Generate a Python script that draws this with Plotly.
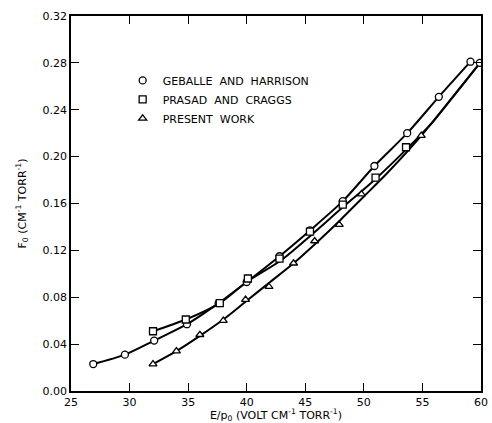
import plotly.graph_objects as go

# Geballe and Harrison (circles)
gh_x = [26.9, 29.6, 32.1, 34.9, 37.6, 40.0, 42.8, 45.4, 48.2, 50.9, 53.7, 56.4, 59.1]
gh_y = [0.023, 0.031, 0.043, 0.057, 0.075, 0.093, 0.115, 0.137, 0.162, 0.192, 0.220, 0.251, 0.281]

# Prasad and Craggs (squares)
pc_x = [32.0, 34.8, 37.7, 40.1, 42.8, 45.4, 48.2, 51.0, 53.6]
pc_y = [0.051, 0.061, 0.075, 0.096, 0.113, 0.136, 0.159, 0.182, 0.208]

# Present work (triangles)
pw_x = [32.0, 34.0, 36.0, 38.0, 39.9, 41.9, 44.0, 45.8, 47.9, 49.8, 54.9]
pw_y = [0.023, 0.034, 0.048, 0.060, 0.078, 0.089, 0.109, 0.128, 0.142, 0.168, 0.218]

# Smoothed curves drawn through the data
pc_curve_x = [32.0, 34.8, 37.7, 40.0, 43.0, 45.5, 48.0, 51.0, 53.6, 56.0, 58.0, 60.0]
pc_curve_y = [0.051, 0.061, 0.075, 0.093, 0.112, 0.133, 0.155, 0.181, 0.206, 0.231, 0.256, 0.281]
pw_curve_x = [32.0, 34.0, 36.0, 38.0, 40.0, 42.0, 44.0, 46.0, 48.0, 50.0, 52.0, 55.0, 58.0, 60.0]
pw_curve_y = [0.023, 0.034, 0.047, 0.061, 0.077, 0.093, 0.109, 0.127, 0.146, 0.166, 0.186, 0.219, 0.256, 0.281]
end_x = [59.9]
end_y = [0.280]

x_ticks = [25, 30, 35, 40, 45, 50, 55, 60]
y_ticks = [0.00, 0.04, 0.08, 0.12, 0.16, 0.20, 0.24, 0.28, 0.32]

FONT = "DejaVu Sans"
mk = dict(color="white", size=7, line=dict(color="black", width=1.3))

fig = go.Figure()
# curves
fig.add_trace(go.Scatter(x=gh_x, y=gh_y, mode="lines", line=dict(color="black", width=2, shape="spline", smoothing=0.8), showlegend=False))
fig.add_trace(go.Scatter(x=pc_curve_x, y=pc_curve_y, mode="lines", line=dict(color="black", width=2, shape="spline", smoothing=0.8), showlegend=False))
fig.add_trace(go.Scatter(x=pw_curve_x, y=pw_curve_y, mode="lines", line=dict(color="black", width=2, shape="spline", smoothing=0.8), showlegend=False))
# markers
fig.add_trace(go.Scatter(x=gh_x, y=gh_y, mode="markers", marker=dict(symbol="circle", **mk), name="GEBALLE  AND  HARRISON"))
fig.add_trace(go.Scatter(x=pc_x, y=pc_y, mode="markers", marker=dict(symbol="square", **mk), name="PRASAD  AND  CRAGGS"))
fig.add_trace(go.Scatter(x=pw_x, y=pw_y, mode="markers", marker=dict(symbol="triangle-up", **mk), name="PRESENT  WORK"))
fig.add_trace(go.Scatter(x=end_x, y=end_y, mode="markers", marker=dict(symbol="circle", **mk), showlegend=False))

axis_common = dict(
    showline=True, linecolor="black", linewidth=1.5, mirror="ticks",
    ticks="inside", ticklen=8, tickwidth=1.2, tickcolor="black",
    showgrid=False, zeroline=False, ticklabeloverflow="allow",
    tickfont=dict(family=FONT, size=11, color="black"),
)

fig.update_xaxes(range=[25, 60], tickvals=x_ticks, ticktext=[str(v) for v in x_ticks],
                 title=dict(text="E/p<sub>0</sub> (VOLT CM<sup>-1</sup> TORR<sup>-1</sup>)",
                            font=dict(family=FONT, size=11, color="black"), standoff=0),
                 **axis_common)
fig.update_yaxes(range=[0, 0.32], tickvals=y_ticks, ticktext=[f"{v:.2f}" for v in y_ticks],
                 title=dict(text="F<sub>0</sub> (CM<sup>-1</sup> TORR<sup>-1</sup>)",
                            font=dict(family=FONT, size=11, color="black"), standoff=14),
                 **axis_common)

fig.update_layout(
    width=492, height=423,
    margin=dict(l=71, r=4, t=16, b=32),
    paper_bgcolor="white", plot_bgcolor="white",
    font=dict(family=FONT, size=11, color="black"),
    legend=dict(x=0.126, y=0.867, xanchor="left", yanchor="top", bgcolor="rgba(0,0,0,0)",
                font=dict(family=FONT, size=11, color="black"), tracegroupgap=0, itemwidth=30),
)

fig.write_html("out.html")
